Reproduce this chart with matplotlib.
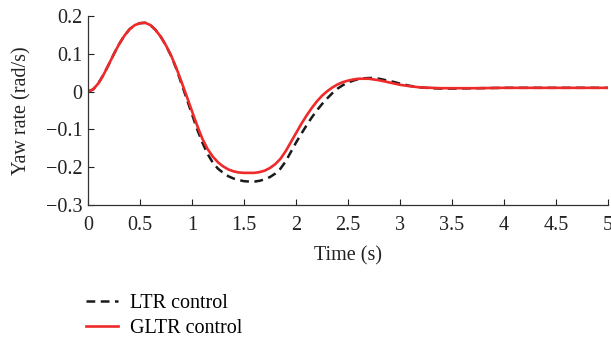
import matplotlib
matplotlib.use("Agg")
import matplotlib.pyplot as plt

plt.rcParams['font.family'] = ['Liberation Serif', 'DejaVu Serif']

time_s = [0.00, 0.05, 0.10, 0.15, 0.20, 0.25, 0.30, 0.35, 0.40, 0.45,
          0.50, 0.55, 0.60, 0.65, 0.70, 0.75, 0.80, 0.85, 0.90, 0.95,
          1.00, 1.05, 1.10, 1.15, 1.20, 1.25, 1.30, 1.35, 1.40, 1.45,
          1.50, 1.55, 1.60, 1.65, 1.70, 1.75, 1.80, 1.85, 1.90, 1.95,
          2.00, 2.05, 2.10, 2.15, 2.20, 2.25, 2.30, 2.35, 2.40, 2.45,
          2.50, 2.55, 2.60, 2.65, 2.70, 2.75, 2.80, 2.85, 2.90, 2.95,
          3.00, 3.10, 3.20, 3.30, 3.40, 3.50, 3.75, 4.00, 4.50, 5.00]

ltr = [0.0, 0.006, 0.022, 0.045, 0.072, 0.1, 0.126, 0.148, 0.165, 0.176,
       0.181, 0.182, 0.176, 0.163, 0.145, 0.122, 0.094, 0.06, 0.02, -0.02,
       -0.06, -0.1, -0.135, -0.165, -0.188, -0.204, -0.215, -0.224, -0.23, -0.234,
       -0.237, -0.238, -0.238, -0.236, -0.232, -0.226, -0.217, -0.204, -0.185, -0.16,
       -0.135, -0.112, -0.09, -0.069, -0.05, -0.033, -0.018, -0.004, 0.008, 0.017,
       0.024, 0.029, 0.033, 0.035, 0.036, 0.036, 0.034, 0.031, 0.028, 0.025,
       0.021, 0.015, 0.011, 0.009, 0.008, 0.008, 0.009, 0.01, 0.01, 0.01]

gltr = [0.0, 0.006, 0.022, 0.045, 0.072, 0.1, 0.126, 0.148, 0.165, 0.176,
        0.181, 0.182, 0.176, 0.163, 0.145, 0.122, 0.095, 0.062, 0.025, -0.013,
        -0.052, -0.09, -0.125, -0.152, -0.172, -0.187, -0.198, -0.206, -0.211, -0.214,
        -0.215, -0.215, -0.215, -0.213, -0.209, -0.202, -0.192, -0.178, -0.158, -0.134,
        -0.11, -0.086, -0.064, -0.044, -0.026, -0.011, 0.001, 0.011, 0.019, 0.025,
        0.029, 0.032, 0.034, 0.034, 0.034, 0.032, 0.03, 0.027, 0.024, 0.021,
        0.018, 0.014, 0.011, 0.01, 0.009, 0.009, 0.009, 0.01, 0.01, 0.01]

xticks = [0, 0.5, 1, 1.5, 2, 2.5, 3, 3.5, 4, 4.5, 5]
xticklabels = ['0', '0.5', '1', '1.5', '2', '2.5', '3', '3.5', '4', '4.5', '5']
yticks = [-0.3, -0.2, -0.1, 0, 0.1, 0.2]
yticklabels = ['\u22120.3', '\u22120.2', '\u22120.1', '0', '0.1', '0.2']

FS = 14.5
fig = plt.figure(figsize=(6.11, 3.43), dpi=100)
ax = fig.add_axes([88/611, 1-205/343, (608-88)/611, (205-16)/343])

l1, = ax.plot(time_s, ltr, color='#1a1a1a', lw=1.8, linestyle=(0, (3.5, 2.2)), label='LTR control')
l2, = ax.plot(time_s, gltr, color='#ee2a2a', lw=1.9, label='GLTR control')

ax.set_xlim(0, 5)
ax.set_ylim(-0.3, 0.2)
ax.set_xticks(xticks)
ax.set_xticklabels(xticklabels)
ax.set_yticks(yticks)
ax.set_yticklabels(yticklabels)
ax.tick_params(direction='in', length=4.5, width=0.8, labelsize=FS, colors='#222222')
ax.tick_params(axis='x', pad=8)
ax.tick_params(axis='y', pad=4)
for s in ['top', 'right']:
    ax.spines[s].set_visible(False)
for s in ['left', 'bottom']:
    ax.spines[s].set_color('#333333')
    ax.spines[s].set_linewidth(0.9)

ax.set_xlabel('Time (s)', fontsize=FS, color='#222222', labelpad=8)
ax.set_ylabel('Yaw rate (rad/s)', fontsize=FS, color='#222222', labelpad=10)

fig.legend(handles=[l1, l2], loc='upper left', bbox_to_anchor=(78/611, 1-286/343),
           frameon=False, fontsize=FS, handlelength=1.6, handletextpad=0.6,
           labelspacing=0.3, borderaxespad=0)

fig.savefig('out.png', dpi=100)
